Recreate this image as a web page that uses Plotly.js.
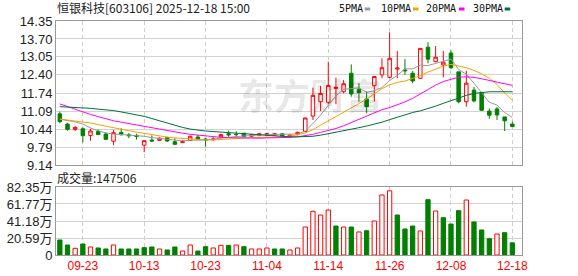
<!DOCTYPE html>
<html><head><meta charset="utf-8">
<script src="https://cdn.plot.ly/plotly-3.0.1.min.js"></script>
<style>html,body{margin:0;padding:0;background:#fff}#chart{width:578px;height:276px}</style>
</head><body><div id="chart"></div>
<script>
const dates = ['09-18','09-19','09-22','09-23','09-24','09-25','09-26','09-29','09-30','10-09','10-10','10-13','10-14','10-15','10-16','10-17','10-20','10-21','10-22','10-23','10-24','10-27','10-28','10-29','10-30','10-31','11-03','11-04','11-05','11-06','11-07','11-10','11-11','11-12','11-13','11-14','11-17','11-18','11-19','11-20','11-21','11-24','11-25','11-26','11-27','11-28','12-01','12-02','12-03','12-04','12-05','12-08','12-09','12-10','12-11','12-12','12-15','12-16','12-17','12-18'];
const open  = [10.99,10.62,10.43,10.45,10.21,10.35,10.26,10.00,10.32,10.23,10.21,9.86,10.04,10.03,10.13,9.98,9.95,10.03,10.15,10.08,10.05,10.16,10.27,10.25,10.29,10.18,10.22,10.21,10.22,10.27,10.18,10.25,10.35,10.91,11.43,11.41,11.91,11.79,12.46,11.88,11.53,12.01,12.40,12.31,12.61,12.58,12.46,12.28,13.40,12.88,12.76,13.19,12.51,11.43,11.85,11.76,11.09,11.17,10.88,10.62];
const high  = [11.07,10.67,10.55,10.50,10.45,10.43,10.32,10.41,10.47,10.30,10.27,10.03,10.21,10.14,10.16,10.12,10.04,10.20,10.23,10.13,10.15,10.27,10.38,10.36,10.30,10.27,10.29,10.30,10.30,10.30,10.24,10.35,10.86,11.94,12.00,12.88,12.30,12.22,12.78,12.10,11.79,12.36,13.00,13.94,13.27,12.98,12.54,13.36,13.58,13.44,13.27,13.29,12.51,12.55,11.97,11.79,11.19,11.24,10.88,10.71];
const low   = [10.65,10.38,10.37,9.96,10.02,10.23,10.04,9.86,10.20,10.11,10.06,9.60,9.98,10.02,9.97,9.86,9.94,10.01,10.04,9.80,10.02,10.12,10.16,10.16,10.14,10.15,10.18,10.19,10.20,10.15,10.15,10.21,10.33,10.77,11.09,11.34,11.34,11.73,11.61,11.43,11.01,11.43,12.28,12.28,12.28,12.40,12.10,12.25,12.82,12.86,12.31,12.61,11.37,11.25,11.41,11.10,10.81,10.77,10.37,10.53];
const close = [10.71,10.43,10.50,10.20,10.37,10.24,10.07,10.31,10.24,10.20,10.18,10.02,10.01,10.11,10.01,9.89,9.99,10.18,10.08,10.05,10.08,10.24,10.23,10.24,10.17,10.24,10.27,10.28,10.27,10.19,10.22,10.32,10.84,11.66,11.73,12.02,11.95,12.08,11.71,11.76,11.25,12.34,12.66,13.00,12.65,12.55,12.18,13.36,12.97,13.04,12.86,12.66,11.43,12.10,11.46,11.12,10.94,10.95,10.74,10.53];
const volume = [182000,121000,81000,133000,97000,85000,73000,121000,73000,73000,73000,89000,97000,73000,61000,97000,48000,121000,48000,101000,85000,117000,117000,121000,101000,73000,73000,85000,73000,73000,61000,85000,339000,529000,484000,545000,351000,339000,339000,279000,294000,412000,727000,777000,484000,315000,351000,291000,670000,533000,452000,375000,537000,666000,400000,303000,198000,254000,270000,147506];
const ma5  = [10.80,10.76,10.70,10.62,10.48,10.38,10.30,10.26,10.25,10.22,10.20,10.18,10.13,10.10,10.08,10.05,10.01,10.04,10.03,10.04,10.08,10.12,10.14,10.17,10.19,10.22,10.23,10.24,10.25,10.25,10.25,10.26,10.37,10.64,10.95,11.30,11.64,11.88,11.90,11.93,11.77,11.83,11.94,12.20,12.38,12.62,12.62,12.75,12.74,12.82,12.88,12.97,12.60,12.42,12.10,11.75,11.41,11.31,11.04,10.86];
const ma10 = [10.80,10.77,10.74,10.71,10.66,10.60,10.54,10.48,10.43,10.38,10.33,10.28,10.24,10.20,10.15,10.12,10.10,10.08,10.06,10.05,10.05,10.06,10.07,10.09,10.11,10.13,10.14,10.14,10.14,10.16,10.19,10.23,10.30,10.42,10.58,10.74,10.90,11.06,11.22,11.38,11.52,11.72,11.90,12.04,12.13,12.18,12.27,12.37,12.50,12.62,12.72,12.78,12.72,12.66,12.56,12.44,12.28,12.05,11.75,11.47];
const ma20 = [11.35,11.25,11.15,11.05,10.97,10.89,10.81,10.74,10.69,10.64,10.59,10.54,10.48,10.42,10.37,10.33,10.29,10.25,10.22,10.18,10.15,10.14,10.13,10.12,10.11,10.11,10.11,10.12,10.12,10.13,10.14,10.16,10.20,10.25,10.32,10.38,10.46,10.56,10.68,10.80,10.93,11.04,11.14,11.22,11.31,11.42,11.55,11.72,11.88,12.03,12.16,12.25,12.32,12.33,12.31,12.26,12.20,12.14,12.08,12.02];
const ma30 = [11.25,11.24,11.22,11.21,11.19,11.16,11.14,11.11,11.06,11.01,10.96,10.90,10.82,10.74,10.64,10.56,10.50,10.44,10.40,10.37,10.35,10.33,10.31,10.29,10.27,10.25,10.23,10.21,10.19,10.17,10.16,10.16,10.17,10.18,10.22,10.27,10.32,10.37,10.43,10.49,10.55,10.61,10.69,10.78,10.87,10.96,11.04,11.10,11.18,11.27,11.37,11.47,11.57,11.66,11.73,11.77,11.79,11.79,11.79,11.79];
const xTickLabels = ['09-23','10-13','10-23','11-04','11-14','11-26','12-08','12-18'];
const priceTicks = ['9.14','9.79','10.44','11.09','11.74','12.40','13.05','13.70','14.35'];
const volTickVals = [0,205900,411800,617700,823500];
const volTickText = ['0','20.59万','41.18万','61.77万','82.35万'];
const maNames = ['5PMA','10PMA','20PMA','30PMA'];
const stockTitle = '恒银科技[603106] 2025-12-18 15:00';
const volLabel = '成交量:' + volume[volume.length-1];
const watermark = '东方财富';

const RED = '#ff0000', GREEN = '#008000';
const maColors = ['#999999','#f5a300','#ff00ff','#006f35'];
const idx = dates.map((d,i)=>i);
const tickIdx = xTickLabels.map(l=>dates.indexOf(l));
const up = close.map((c,i)=> i===0 ? c>=open[0] : c>=close[i-1]);

const L=56, R=522, T=21, B=255, W=R-L, H=B-T;
const px = x=>(x-L)/W, py = y=>(B-y)/H;

const traces = [
 {type:'candlestick', x:idx, open:open, high:high, low:low, close:close, xaxis:'x', yaxis:'y',
  increasing:{line:{color:RED,width:1}, fillcolor:'#ffffff'},
  decreasing:{line:{color:GREEN,width:1}, fillcolor:GREEN},
  whiskerwidth:0, hoverinfo:'skip'}
];
[ma5,ma10,ma20,ma30].forEach((m,k)=>traces.push({type:'scatter',mode:'lines',x:idx,y:m,xaxis:'x',yaxis:'y',
  line:{color:maColors[k],width:1},hoverinfo:'skip'}));
traces.push({type:'bar',x:idx,y:volume,xaxis:'x2',yaxis:'y2',width:0.56,
  marker:{color:up.map(u=>u?'#ffffff':GREEN), line:{color:up.map(u=>u?RED:GREEN),width:1}},hoverinfo:'skip'});

const xr=[-0.5,60.26];
const axFont={family:'Liberation Sans, Arial, Noto Sans CJK SC',size:13,color:'#222'};
const common={showline:true,mirror:true,linecolor:'#999',linewidth:1,zeroline:false,ticks:'',fixedrange:true};
const layout={
 width:578,height:276,margin:{l:L,r:578-R,t:T,b:276-B},
 paper_bgcolor:'#fff',plot_bgcolor:'#fff',showlegend:false,boxgap:0.35,
 xaxis:Object.assign({},common,{domain:[0,1],anchor:'y',range:xr,tickmode:'array',tickvals:tickIdx,ticktext:xTickLabels,
   showticklabels:false,showgrid:true,gridcolor:'#cccccc',griddash:'4px,3px',rangeslider:{visible:false}}),
 yaxis:Object.assign({},common,{domain:[py(165),1],anchor:'x',range:[9.14,14.35],tickmode:'array',
   tickvals:priceTicks.map(Number),ticktext:priceTicks,gridcolor:'#d2d2d2',tickfont:axFont}),
 xaxis2:Object.assign({},common,{domain:[0,1],anchor:'y2',range:xr,tickmode:'array',tickvals:tickIdx,ticktext:xTickLabels,
   showgrid:true,gridcolor:'#cccccc',griddash:'4px,3px',tickfont:{family:'Liberation Sans, Arial',size:12,color:RED}}),
 yaxis2:Object.assign({},common,{domain:[0,py(187)],anchor:'x2',range:[0,823500],tickmode:'array',
   tickvals:volTickVals,ticktext:volTickText,gridcolor:'#d2d2d2',tickfont:axFont}),
 annotations:[
  {xref:'paper',yref:'paper',x:0,y:py(8),xanchor:'left',yanchor:'middle',showarrow:false,text:stockTitle,
   borderpad:0,font:{family:'Noto Sans CJK SC, Liberation Sans',size:12,color:'#222'}},
  {xref:'paper',yref:'paper',x:0,y:py(177.5),xanchor:'left',yanchor:'middle',showarrow:false,text:volLabel,
   borderpad:0,font:{family:'Noto Sans CJK SC, Liberation Sans',size:12,color:'#222'}},
  {xref:'paper',yref:'paper',x:px(310),y:py(94),xanchor:'center',yanchor:'middle',showarrow:false,text:watermark,
   font:{family:'Noto Sans CJK SC',size:36,color:'rgba(0,0,0,0.1)',weight:700}}
 ],
 shapes:[]
};
const legX=[338,379.7,425,471.7], sqX=[364.7,413,459,504.7];
maNames.forEach((n,k)=>{
 layout.annotations.push({xref:'paper',yref:'paper',x:px(legX[k]),y:py(9),xanchor:'left',yanchor:'middle',showarrow:false,
   text:n,borderpad:0,font:{family:'DejaVu Sans Mono',size:10,color:'#111'}});
 layout.shapes.push({type:'rect',xref:'paper',yref:'paper',x0:px(sqX[k]),x1:px(sqX[k]+5.5),y0:py(10.5),y1:py(7.5),
   fillcolor:maColors[k],line:{width:0}});
});
Plotly.newPlot('chart',traces,layout,{staticPlot:true,displayModeBar:false});
</script></body></html>
